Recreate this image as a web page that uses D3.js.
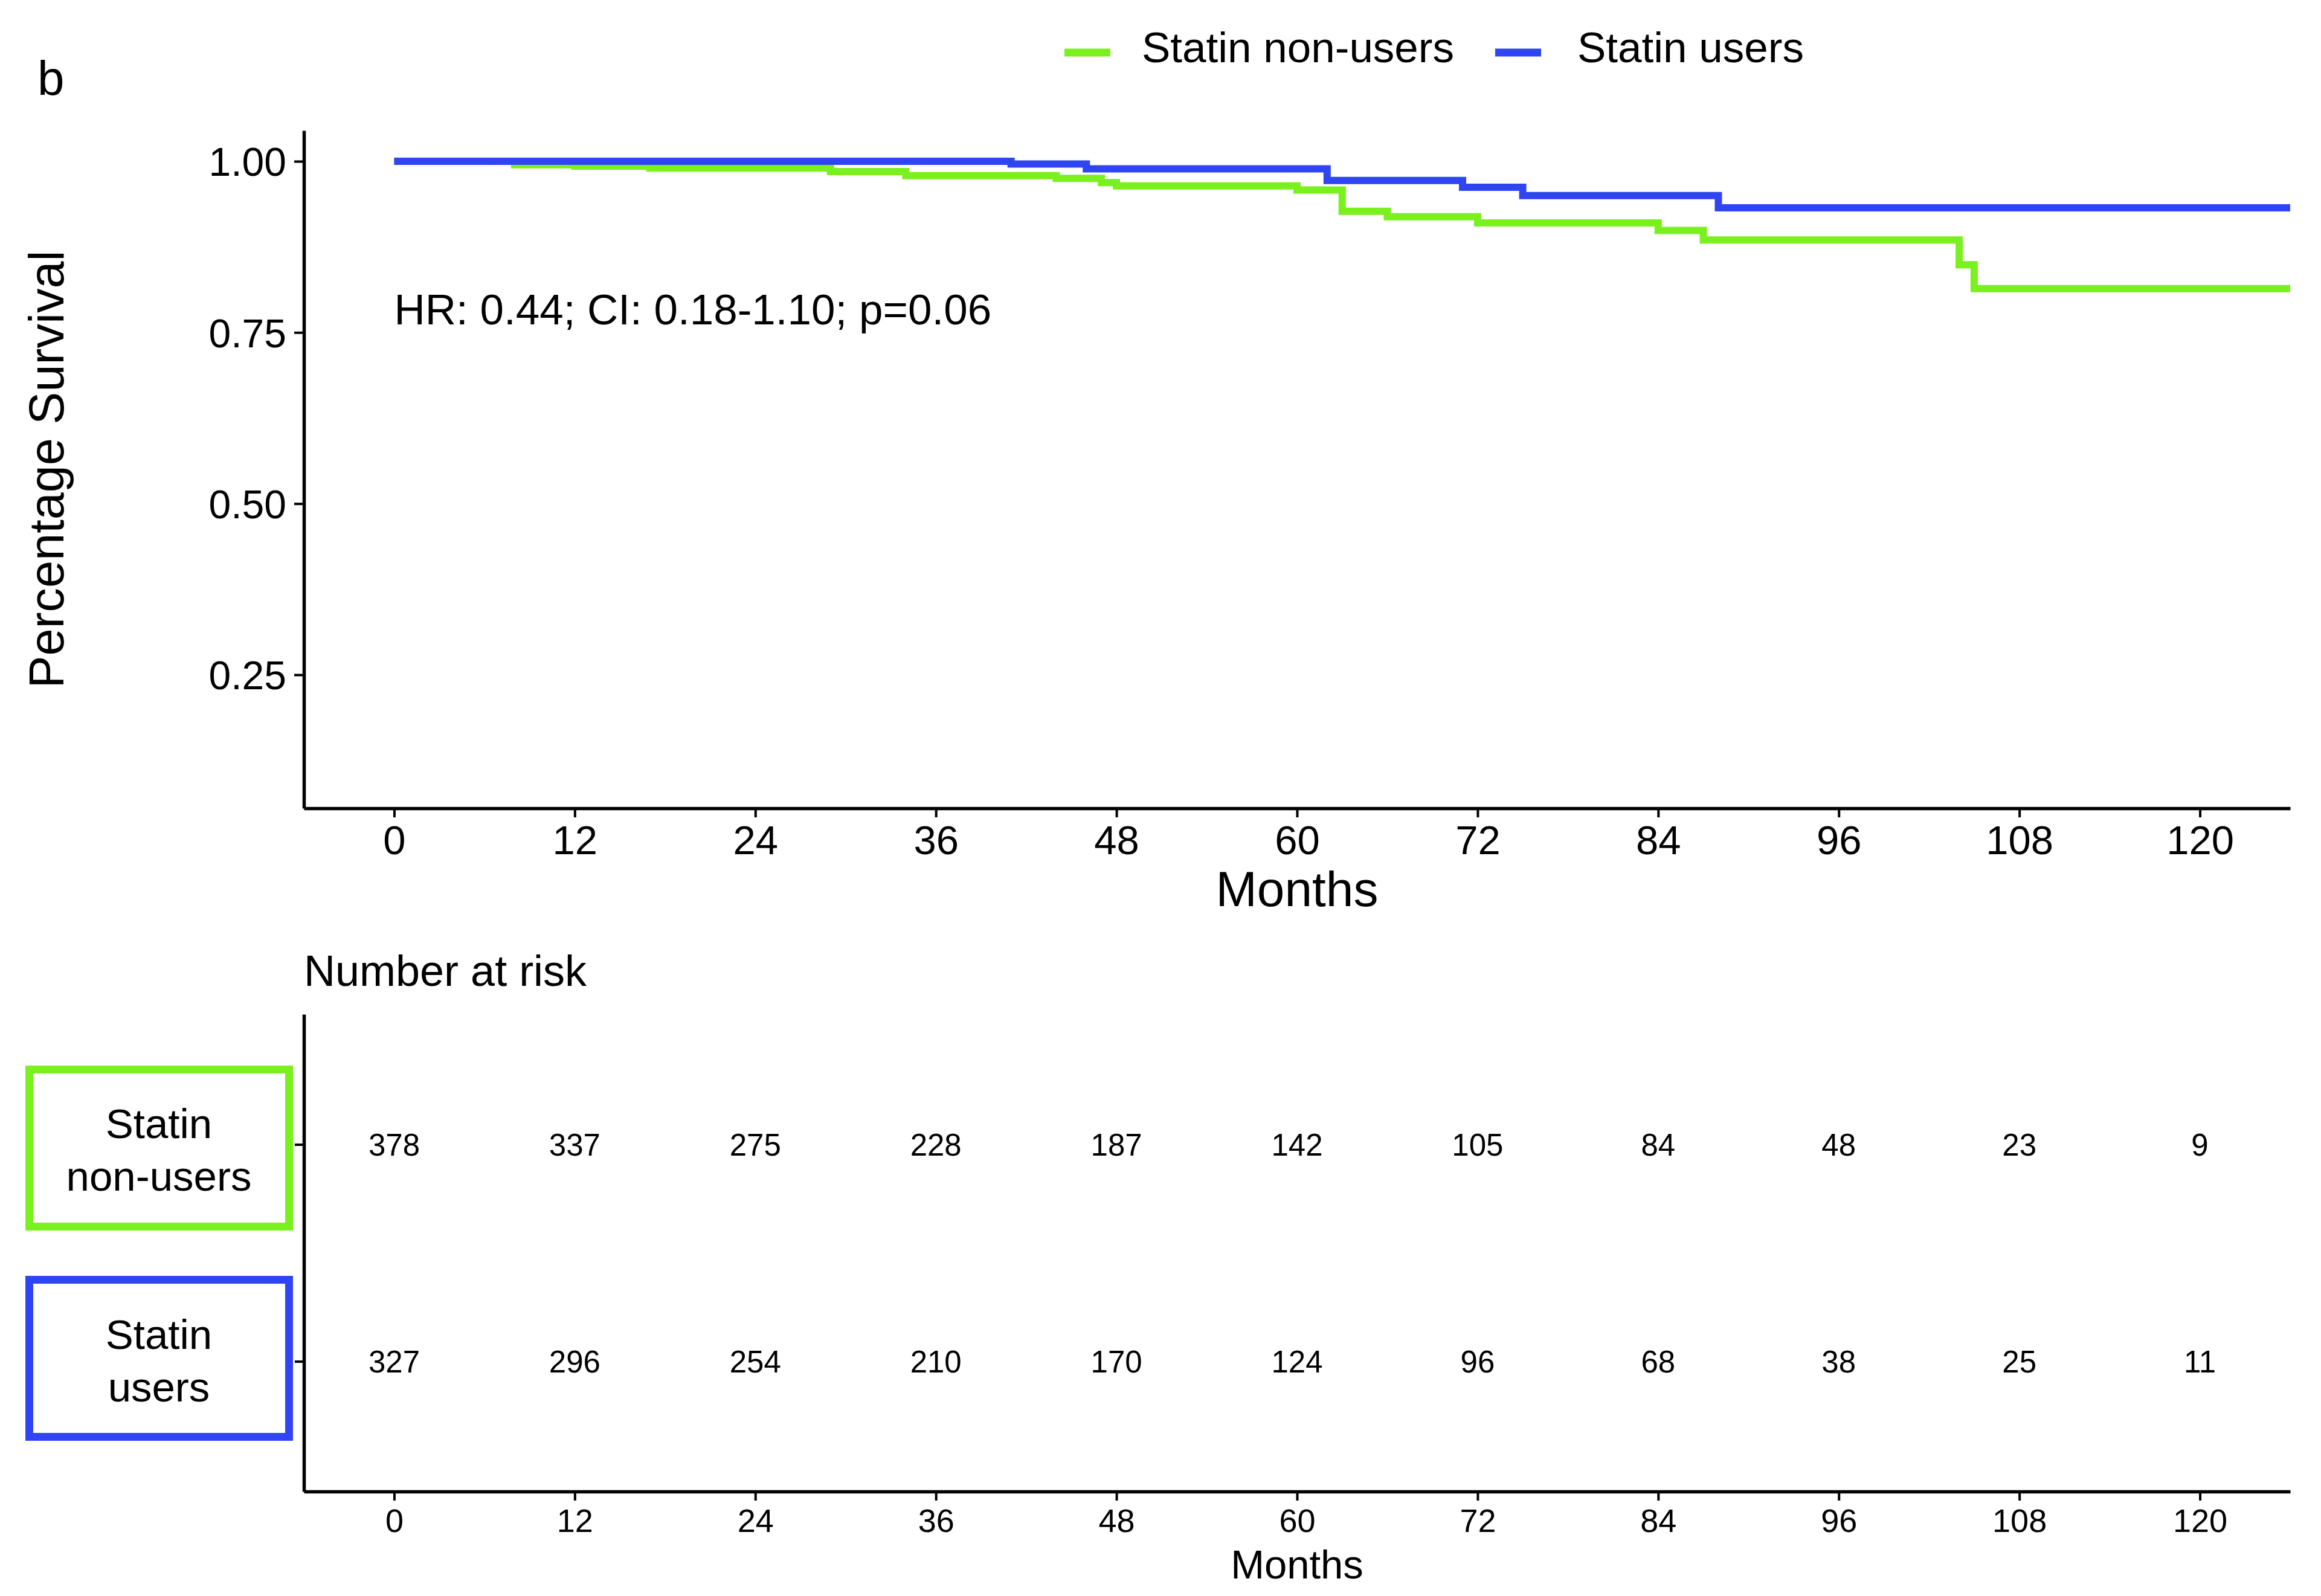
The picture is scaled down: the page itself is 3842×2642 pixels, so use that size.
<!DOCTYPE html>
<html>
<head>
<meta charset="utf-8">
<script src="https://cdn.jsdelivr.net/npm/d3@7"></script>
<style>
  html, body { margin: 0; padding: 0; background: #ffffff; }
  svg { display: block; }
  text { font-family: "Liberation Sans", Arial, Helvetica, sans-serif; fill: #000; }
</style>
</head>
<body>
<svg id="chart" width="3842" height="2642"></svg>
<script>
// ---------------- DATA ----------------
const groups = ["Statin non-users", "Statin users"];
const groupColors = ["#7AF01E", "#2F45F2"];

// Kaplan-Meier step points (months, survival)
const nonUsersTimes    = [0,     8,     12,    17,    29,    34,    44,    47,    48,    60,    63,    66,    72,    84,    87,    104,   105,   130];
const nonUsersSurvival = [1.000, 0.995, 0.993, 0.990, 0.985, 0.979, 0.975, 0.969, 0.964, 0.958, 0.927, 0.919, 0.910, 0.899, 0.885, 0.849, 0.814, 0.814];
const usersTimes       = [0,     41,    46,    62,    71,    75,    88,    130];
const usersSurvival    = [1.000, 0.996, 0.989, 0.972, 0.962, 0.950, 0.932, 0.932];

const monthTicks = [0, 12, 24, 36, 48, 60, 72, 84, 96, 108, 120];
const survivalTicks = [0.25, 0.50, 0.75, 1.00];

const riskNonUsers = [378, 337, 275, 228, 187, 142, 105, 84, 48, 23, 9];
const riskUsers    = [327, 296, 254, 210, 170, 124, 96, 68, 38, 25, 11];

const hrLabel = "HR: 0.44; CI: 0.18-1.10; p=0.06";
const panelLabel = "b";

// ---------------- LAYOUT ----------------
const svg = d3.select("#chart");
const font = '"Liberation Sans", Arial, Helvetica, sans-serif';

const plotLeft = 503, plotRight = 3791, plotTop = 216, plotBottom = 1338;
const tableTop = 1679, tableBottom = 2469;

const x = d3.scaleLinear().domain([-6, 126]).range([plotLeft, plotRight]);
const y = d3.scaleLinear().domain([0.055, 1.045]).range([plotBottom, plotTop]);

// clip
svg.append("defs").append("clipPath").attr("id", "plotclip")
  .append("rect").attr("x", plotLeft).attr("y", plotTop - 20)
  .attr("width", plotRight - plotLeft).attr("height", plotBottom - plotTop + 20);

// panel label
svg.append("text").attr("x", 62).attr("y", 157)
  .attr("font-size", 80).text(panelLabel);

// ---------------- CURVES ----------------
const line = d3.line()
  .x(d => x(d[0])).y(d => y(d[1]))
  .curve(d3.curveStepAfter);

const series = [
  d3.zip(nonUsersTimes, nonUsersSurvival),
  d3.zip(usersTimes, usersSurvival)
];

const curves = svg.append("g").attr("clip-path", "url(#plotclip)");
series.forEach((s, i) => {
  curves.append("path")
    .datum(s)
    .attr("d", line)
    .attr("fill", "none")
    .attr("stroke", groupColors[i])
    .attr("stroke-width", 12)
    .attr("stroke-linecap", "butt")
    .attr("stroke-linejoin", "miter");
});

// ---------------- AXES (main) ----------------
function styleAxis(g, fontSize, lineW, tickW) {
  g.select(".domain").attr("stroke", "#000").attr("stroke-width", lineW);
  g.selectAll(".tick line").attr("stroke", "#000").attr("stroke-width", tickW);
  g.selectAll(".tick text").attr("fill", "#000").attr("font-size", fontSize).attr("font-family", font);
}

const xAxis = svg.append("g")
  .attr("transform", `translate(0,${plotBottom})`)
  .call(d3.axisBottom(x).tickValues(monthTicks).tickSize(15).tickSizeOuter(0).tickPadding(13));
styleAxis(xAxis, 67, 5.5, 4);

const yAxis = svg.append("g")
  .attr("transform", `translate(${plotLeft},0)`)
  .call(d3.axisLeft(y).tickValues(survivalTicks).tickFormat(d3.format(".2f")).tickSize(16).tickSizeOuter(0).tickPadding(13));
styleAxis(yAxis, 66, 5.5, 4);
yAxis.selectAll(".tick text").attr("dy", "0.36em");

// axis titles
svg.append("text")
  .attr("x", (plotLeft + plotRight) / 2).attr("y", 1500)
  .attr("text-anchor", "middle").attr("font-size", 82).text("Months");

svg.append("text")
  .attr("transform", `translate(105,${(plotTop + plotBottom) / 2}) rotate(-90)`)
  .attr("text-anchor", "middle").attr("font-size", 81).text("Percentage Survival");

// HR annotation
svg.append("text")
  .attr("x", x(0)).attr("y", y(0.78) + 21)
  .attr("font-size", 71).text(hrLabel);

// ---------------- LEGEND ----------------
const legendItems = [
  { label: groups[0], color: groupColors[0], kx: 1762, tx: 1890 },
  { label: groups[1], color: groupColors[1], kx: 2475, tx: 2611 }
];
const legend = svg.append("g");
legendItems.forEach(d => {
  legend.append("line")
    .attr("x1", d.kx).attr("x2", d.kx + 76)
    .attr("y1", 87).attr("y2", 87)
    .attr("stroke", d.color).attr("stroke-width", 13);
  legend.append("text")
    .attr("x", d.tx).attr("y", 103)
    .attr("font-size", 71).text(d.label);
});

// ---------------- RISK TABLE ----------------
svg.append("text").attr("x", plotLeft).attr("y", 1632)
  .attr("font-size", 72).text("Number at risk");

const yRisk = d3.scalePoint()
  .domain([groups[1], groups[0]])
  .range([tableBottom, tableTop])
  .padding(0.6);

const tAxisX = svg.append("g")
  .attr("transform", `translate(0,${tableBottom})`)
  .call(d3.axisBottom(x).tickValues(monthTicks).tickSize(15).tickSizeOuter(0).tickPadding(14));
styleAxis(tAxisX, 54, 5.5, 4);

const tAxisY = svg.append("g")
  .attr("transform", `translate(${plotLeft},0)`)
  .call(d3.axisLeft(yRisk).tickFormat("").tickSize(15).tickSizeOuter(0));
styleAxis(tAxisY, 54, 5.5, 4);

svg.append("text")
  .attr("x", (plotLeft + plotRight) / 2).attr("y", 2613)
  .attr("text-anchor", "middle").attr("font-size", 67).text("Months");

const riskRows = [
  { group: groups[0], values: riskNonUsers },
  { group: groups[1], values: riskUsers }
];
const riskG = svg.append("g");
riskRows.forEach(r => {
  riskG.selectAll(null)
    .data(d3.zip(monthTicks, r.values))
    .join("text")
    .attr("x", d => x(d[0]))
    .attr("y", yRisk(r.group))
    .attr("dy", "0.36em")
    .attr("text-anchor", "middle")
    .attr("font-size", 51)
    .text(d => d[1]);
});

// group label boxes
const boxLines = [["Statin", "non-users"], ["Statin", "users"]];
const boxOffsets = [6, -5];
groups.forEach((g, i) => {
  const cy = yRisk(g) + boxOffsets[i];
  const bg = svg.append("g");
  bg.append("rect")
    .attr("x", 48.5).attr("y", cy - 130)
    .attr("width", 430).attr("height", 260)
    .attr("fill", "none")
    .attr("stroke", groupColors[i])
    .attr("stroke-width", 13);
  bg.append("text")
    .attr("x", 263).attr("y", cy - 16)
    .attr("text-anchor", "middle").attr("font-size", 69)
    .text(boxLines[i][0]);
  bg.append("text")
    .attr("x", 263).attr("y", cy + 71)
    .attr("text-anchor", "middle").attr("font-size", 69)
    .text(boxLines[i][1]);
});
</script>
</body>
</html>
